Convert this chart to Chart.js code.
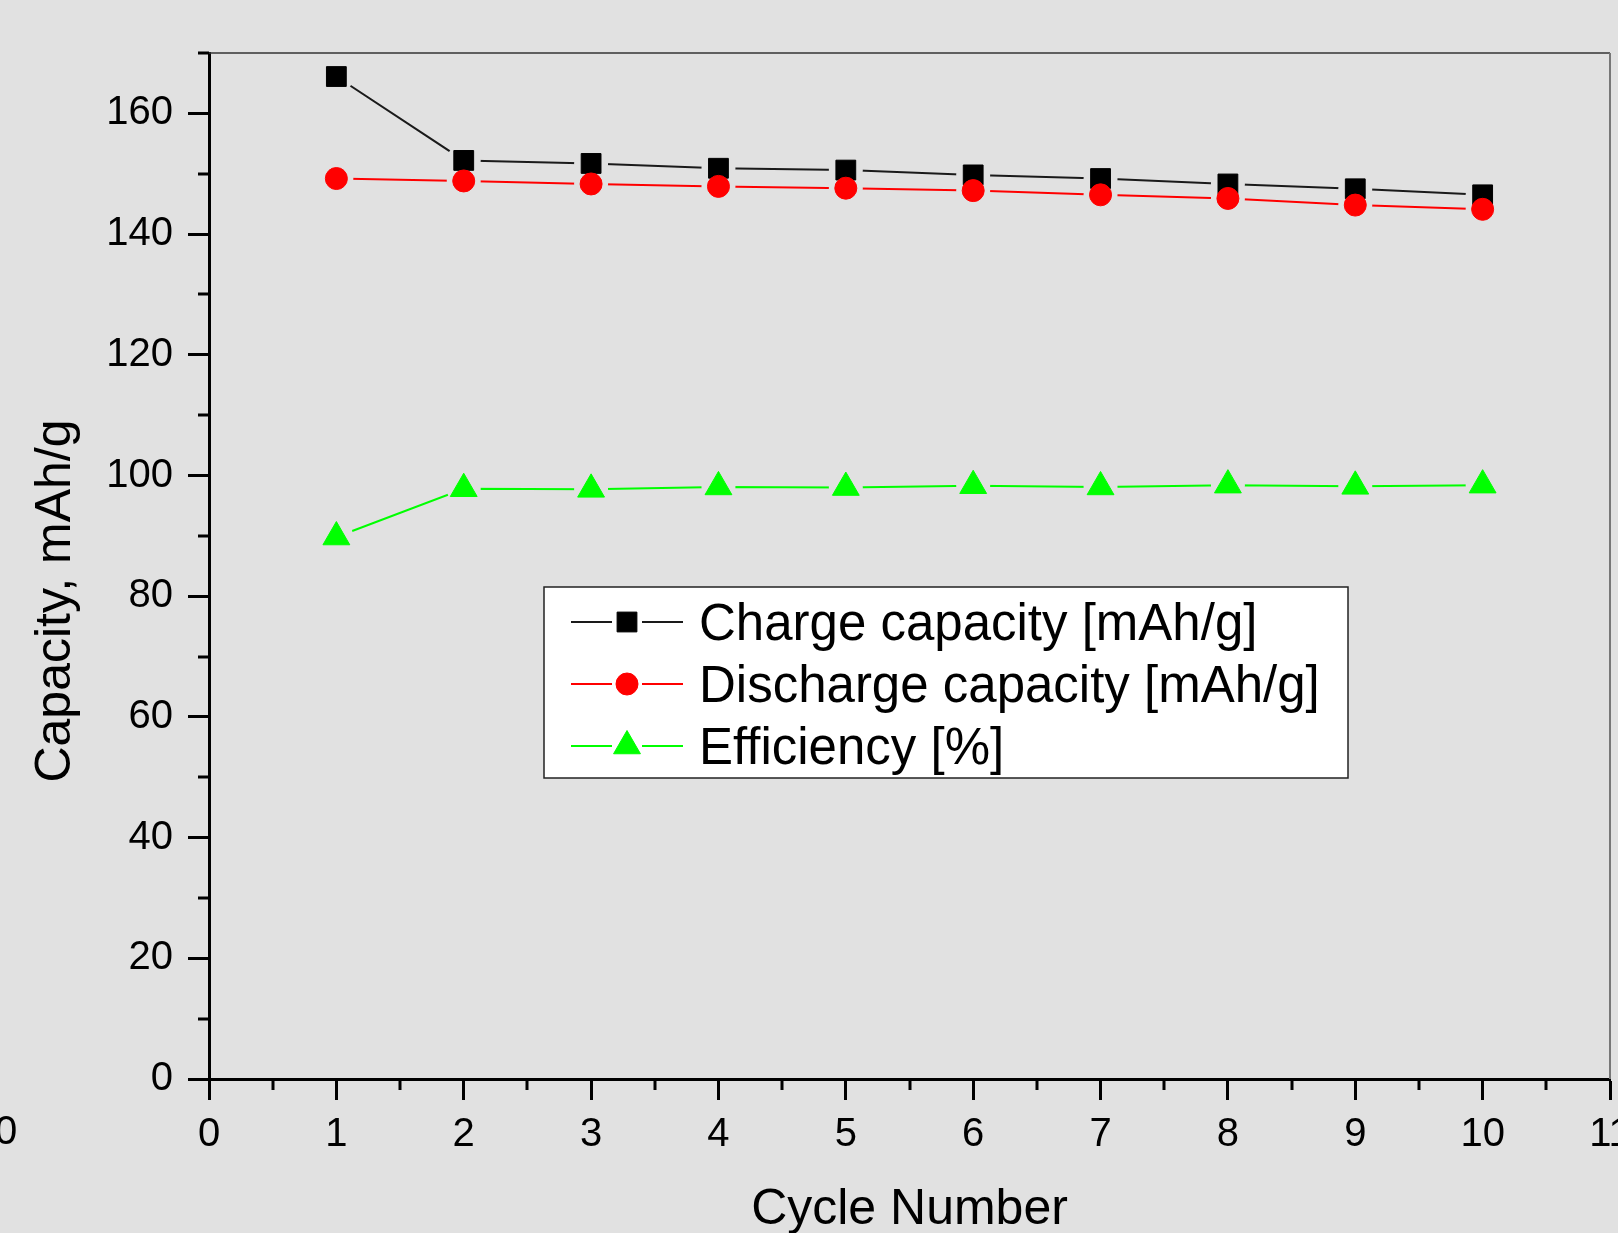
<!DOCTYPE html>
<html>
<head>
<meta charset="utf-8">
<script src="https://cdn.jsdelivr.net/npm/chart.js@4.4.1/dist/chart.umd.min.js"></script>
<style>
  html, body { margin: 0; padding: 0; background: #e1e1e1; }
  canvas { display: block; }
</style>
</head>
<body>
<canvas id="cycleChart" width="1618" height="1233"></canvas>
<script>
// values
const cycles = [1, 2, 3, 4, 5, 6, 7, 8, 9, 10];
const chargeCap = [166.1, 152.2, 151.7, 150.9, 150.6, 149.8, 149.2, 148.3, 147.5, 146.5];
const dischargeCap = [149.2, 148.8, 148.3, 147.9, 147.6, 147.2, 146.5, 145.9, 144.8, 144.1];
const efficiency = [89.8, 97.8, 97.7, 98.1, 98.0, 98.3, 98.1, 98.4, 98.2, 98.4];

const xTicks = [0, 1, 2, 3, 4, 5, 6, 7, 8, 9, 10, 11];
const xMinorTicks = [0.5, 1.5, 2.5, 3.5, 4.5, 5.5, 6.5, 7.5, 8.5, 9.5, 10.5];
const yTicks = [0, 20, 40, 60, 80, 100, 120, 140, 160];
const yMinorTicks = [10, 30, 50, 70, 90, 110, 130, 150, 170];

const seriesLabels = ['Charge capacity [mAh/g]', 'Discharge capacity [mAh/g]', 'Efficiency [%]'];

const FONT = '"Liberation Sans", Arial, sans-serif';
Chart.defaults.font.family = FONT;
Chart.defaults.color = '#000';

function points(values) {
    return cycles.map((c, i) => ({ x: c, y: values[i] }));
}

// connecting line only (gaps cut around the markers by a plugin)
function lineSet(values, color, order) {
    return {
        label: '', data: points(values), borderColor: color, borderWidth: 2,
        pointRadius: 0, gapLine: true, order: order
    };
}

// markers only
function markerSet(label, values, color, lineColor, style, radius, order) {
    return {
        label: label, data: points(values), showLine: false,
        pointStyle: style, pointRadius: radius, pointBorderWidth: 1,
        pointBackgroundColor: color, pointBorderColor: color,
        lineColor: lineColor, order: order
    };
}

// cut the line a bit around each point, like the original plot does
const lineGaps = {
    id: 'lineGaps',
    beforeDatasetDraw(chart, args) {
        if (!chart.data.datasets[args.index].gapLine) return;
        const ctx = chart.ctx;
        ctx.save();
        ctx.beginPath();
        ctx.rect(0, 0, chart.width, chart.height);
        args.meta.data.forEach(pt => {
            ctx.moveTo(pt.x + 17, pt.y);
            ctx.arc(pt.x, pt.y, 17, 0, Math.PI * 2);
        });
        ctx.clip('evenodd');
    },
    afterDatasetDraw(chart, args) {
        if (chart.data.datasets[args.index].gapLine) chart.ctx.restore();
    }
};

// top/right frame, minor ticks, rotated y title, stray label at the left edge
const frameAndExtras = {
    id: 'frameAndExtras',
    afterDraw(chart) {
        const ctx = chart.ctx;
        const a = chart.chartArea;
        const xs = chart.scales.x, ys = chart.scales.y;
        ctx.save();
        ctx.strokeStyle = '#333';
        ctx.lineWidth = 1.5;
        ctx.beginPath();
        ctx.moveTo(a.left, a.top);
        ctx.lineTo(a.right, a.top);
        ctx.stroke();
        ctx.strokeStyle = '#777';
        ctx.lineWidth = 2;
        ctx.beginPath();
        ctx.moveTo(a.right, a.top);
        ctx.lineTo(a.right, a.bottom);
        ctx.stroke();

        ctx.strokeStyle = '#000';
        ctx.lineWidth = 3;
        ctx.beginPath();
        xMinorTicks.forEach(v => {
            const px = Math.round(xs.getPixelForValue(v));
            ctx.moveTo(px, a.bottom);
            ctx.lineTo(px, a.bottom + 11);
        });
        yMinorTicks.forEach(v => {
            const py = Math.round(ys.getPixelForValue(v));
            ctx.moveTo(a.left, py);
            ctx.lineTo(a.left - 11, py);
        });
        ctx.stroke();

        ctx.fillStyle = '#000';
        ctx.font = '50px ' + FONT;
        ctx.save();
        ctx.translate(70, 601);
        ctx.rotate(-Math.PI / 2);
        ctx.textAlign = 'center';
        ctx.textBaseline = 'alphabetic';
        ctx.fillText('Capacity, mAh/g', 0, 0);
        ctx.restore();

        ctx.font = '40px ' + FONT;
        ctx.textAlign = 'left';
        ctx.textBaseline = 'middle';
        ctx.fillText('0', -5, 1133);
        ctx.restore();
    }
};

// legend box inside the plot
const insetLegend = {
    id: 'insetLegend',
    afterDatasetsDraw(chart) {
        const ctx = chart.ctx;
        const box = { left: 544, top: 587, right: 1348, bottom: 778 };
        const rows = [622, 684, 746];
        ctx.save();
        ctx.fillStyle = '#fff';
        ctx.fillRect(box.left, box.top, box.right - box.left, box.bottom - box.top);
        ctx.strokeStyle = '#222';
        ctx.lineWidth = 1.5;
        ctx.strokeRect(box.left, box.top, box.right - box.left, box.bottom - box.top);

        const items = chart.data.datasets.filter(d => d.label);
        items.forEach((d, i) => {
            const y = rows[i];
            ctx.strokeStyle = d.lineColor;
            ctx.lineWidth = 2;
            ctx.beginPath();
            ctx.moveTo(571, y); ctx.lineTo(612, y);
            ctx.moveTo(642, y); ctx.lineTo(683, y);
            ctx.stroke();
            ctx.fillStyle = d.pointBackgroundColor;
            ctx.strokeStyle = d.pointBorderColor;
            ctx.lineWidth = 1;
            Chart.helpers.drawPoint(ctx, {
                pointStyle: d.pointStyle, radius: d.pointRadius, borderWidth: 1, rotation: 0
            }, 627, y);
            ctx.fillStyle = '#000';
            ctx.font = '51px ' + FONT;
            ctx.textAlign = 'left';
            ctx.textBaseline = 'alphabetic';
            ctx.fillText(d.label, 699, y + 18);
        });
        ctx.restore();
    }
};

function noPadding(s) {
    s.paddingLeft = 0; s.paddingRight = 0; s.paddingTop = 0; s.paddingBottom = 0;
}

const axisGrid = { drawOnChartArea: false, drawTicks: true, tickLength: 21, tickWidth: 3, tickColor: '#000' };
const axisBorder = { display: true, width: 3, color: '#000' };

new Chart(document.getElementById('cycleChart'), {
    type: 'line',
    data: {
        datasets: [
            lineSet(chargeCap, '#1a1a1a', 6),
            markerSet(seriesLabels[0], chargeCap, '#000', '#1a1a1a', 'rect', 14, 5),
            lineSet(dischargeCap, '#ff0000', 4),
            markerSet(seriesLabels[1], dischargeCap, '#ff0000', '#ff0000', 'circle', 11, 3),
            lineSet(efficiency, '#00ff00', 2),
            markerSet(seriesLabels[2], efficiency, '#00ff00', '#00ff00', 'triangle', 15.5, 1)
        ]
    },
    options: {
        responsive: false,
        animation: false,
        devicePixelRatio: 1,
        layout: { autoPadding: false, padding: { left: 0, right: 8, top: 53, bottom: 0 } },
        plugins: { legend: { display: false }, title: { display: false }, tooltip: { enabled: false } },
        scales: {
            x: {
                type: 'linear', min: 0, max: 11,
                afterBuildTicks: s => { s.ticks = xTicks.map(v => ({ value: v })); },
                afterFit: s => { s.height = 154; noPadding(s); },
                grid: axisGrid,
                border: axisBorder,
                ticks: { color: '#000', padding: 11, font: { size: 40 }, maxRotation: 0, autoSkip: false },
                title: {
                    display: true, text: 'Cycle Number', color: '#000',
                    font: { size: 50, lineHeight: 0.9 }, padding: { top: 0, bottom: 0 }
                }
            },
            y: {
                type: 'linear', min: 0, max: 170,
                afterBuildTicks: s => { s.ticks = yTicks.map(v => ({ value: v })); },
                afterFit: s => { s.width = 209; noPadding(s); },
                grid: axisGrid,
                border: axisBorder,
                ticks: { color: '#000', padding: 15, font: { size: 40 }, autoSkip: false }
            }
        }
    },
    plugins: [lineGaps, frameAndExtras, insetLegend]
});
</script>
</body>
</html>
